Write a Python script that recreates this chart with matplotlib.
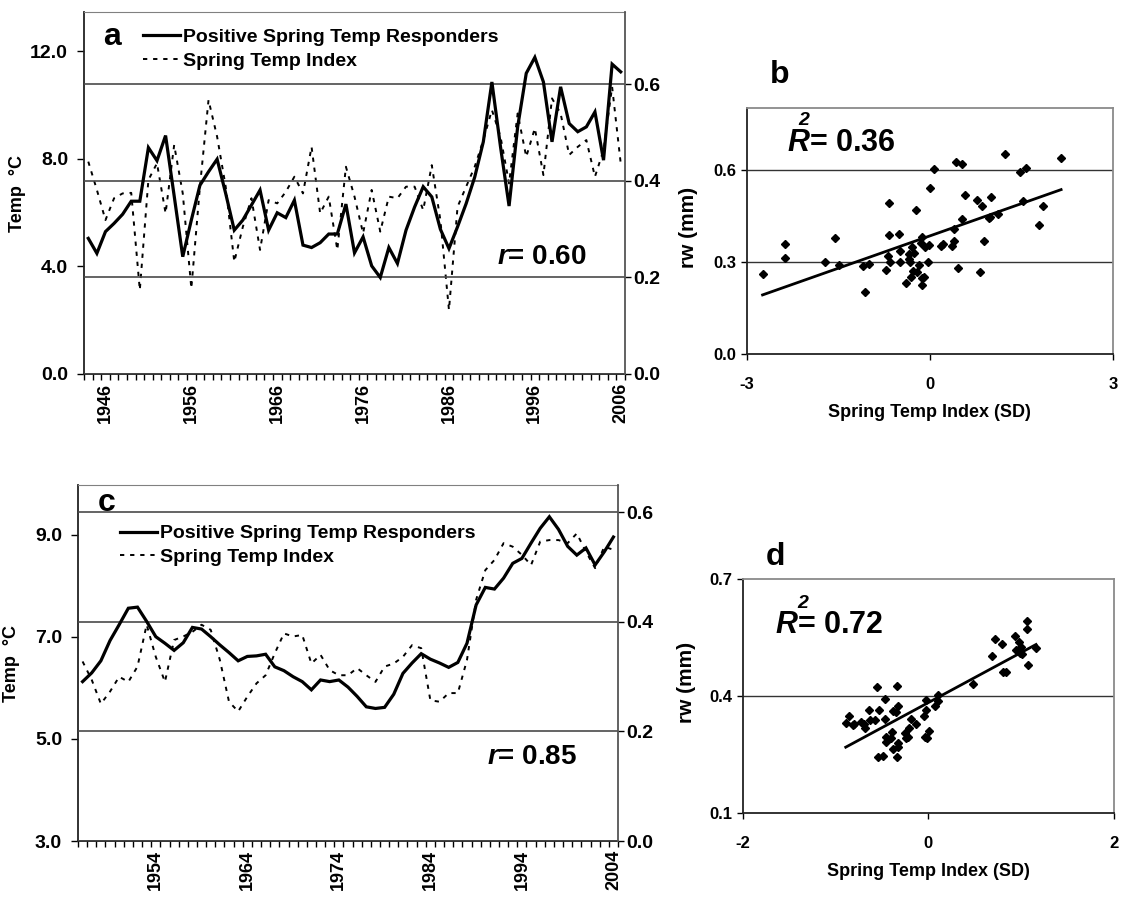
import numpy as np
import matplotlib
matplotlib.use("Agg")
import matplotlib.pyplot as plt
from matplotlib import font_manager
from matplotlib.ticker import FixedLocator, FixedFormatter

# ---- series data ----
years_a = np.arange(1944, 2007)
rw_a = [0.281, 0.250, 0.295, 0.312, 0.331, 0.358, 0.358, 0.469, 0.442, 0.494,
        0.369, 0.243, 0.319, 0.391, 0.419, 0.445, 0.374, 0.298, 0.319, 0.350,
        0.381, 0.298, 0.334, 0.324, 0.360, 0.267, 0.262, 0.272, 0.290, 0.290,
        0.352, 0.251, 0.284, 0.224, 0.200, 0.262, 0.229, 0.298, 0.346, 0.388,
        0.367, 0.300, 0.260, 0.305, 0.353, 0.408, 0.481, 0.605, 0.471, 0.348,
        0.512, 0.623, 0.656, 0.605, 0.481, 0.595, 0.519, 0.502, 0.512, 0.543,
        0.443, 0.642, 0.626]
temp_a = [7.89, 6.84, 5.72, 6.53, 6.71, 6.73, 3.12, 7.21, 7.83, 5.97,
          8.51, 6.71, 3.18, 6.96, 10.18, 8.82, 6.96, 4.17, 5.47, 6.53,
          4.61, 6.46, 6.34, 6.77, 7.33, 6.71, 8.44, 5.97, 6.59, 4.61,
          7.70, 6.59, 5.23, 6.84, 5.29, 6.59, 6.53, 6.96, 6.96, 6.09,
          7.76, 5.72, 2.38, 6.21, 6.96, 7.70, 8.69, 9.81, 8.82, 7.08,
          9.68, 8.07, 9.13, 7.39, 10.24, 9.68, 8.14, 8.44, 8.69, 7.33,
          8.32, 10.67, 7.83]
year_labels_a = [1946, 1956, 1966, 1976, 1986, 1996, 2006]

years_c = np.arange(1946, 2005)
rw_c = [0.291, 0.307, 0.329, 0.366, 0.395, 0.425, 0.427, 0.401, 0.373, 0.361,
        0.348, 0.362, 0.390, 0.387, 0.373, 0.358, 0.344, 0.329, 0.337, 0.338,
        0.341, 0.318, 0.311, 0.300, 0.291, 0.276, 0.294, 0.291, 0.294, 0.281,
        0.264, 0.245, 0.242, 0.244, 0.268, 0.306, 0.325, 0.342, 0.332, 0.325,
        0.317, 0.326, 0.361, 0.431, 0.463, 0.460, 0.480, 0.507, 0.516, 0.544,
        0.571, 0.592, 0.569, 0.538, 0.522, 0.535, 0.504, 0.528, 0.555]
temp_c = [6.52, 6.16, 5.69, 5.93, 6.22, 6.12, 6.42, 7.24, 6.61, 6.12,
          6.94, 7.01, 7.10, 7.24, 7.14, 6.55, 5.73, 5.54, 5.83, 6.09,
          6.25, 6.68, 7.07, 7.01, 7.04, 6.48, 6.65, 6.35, 6.25, 6.25,
          6.39, 6.25, 6.12, 6.42, 6.48, 6.61, 6.84, 6.78, 5.76, 5.73,
          5.90, 5.90, 6.55, 7.73, 8.31, 8.51, 8.84, 8.77, 8.61, 8.41,
          8.87, 8.90, 8.90, 8.84, 9.03, 8.67, 8.35, 8.77, 8.71]
year_labels_c = [1954, 1964, 1974, 1984, 1994, 2004]

# ---- scatter data: spring temp index (SD) vs ring width ----
idx_b = [-2.74, -2.38, -2.38, -1.71, -1.55, -1.48, -1.09, -1.06, -1.00, -0.72,
         -0.68, -0.67, -0.67, -0.65, -0.51, -0.49, -0.49, -0.39, -0.34, -0.34,
         -0.33, -0.31, -0.29, -0.27, -0.26, -0.23, -0.21, -0.18, -0.15, -0.13,
         -0.13, -0.13, -0.10, -0.08, -0.03, -0.02, 0.01, 0.07, 0.19, 0.21,
         0.37, 0.39, 0.40, 0.43, 0.46, 0.53, 0.53, 0.57, 0.77, 0.82,
         0.86, 0.88, 0.97, 0.98, 1.00, 1.11, 1.23, 1.48, 1.52, 1.57,
         1.78, 1.85, 2.15]
rw_b = [0.259, 0.358, 0.313, 0.300, 0.379, 0.290, 0.286, 0.203, 0.293, 0.273,
        0.320, 0.492, 0.386, 0.301, 0.392, 0.334, 0.300, 0.230, 0.327, 0.308,
        0.300, 0.250, 0.347, 0.270, 0.329, 0.469, 0.266, 0.290, 0.360, 0.380,
        0.224, 0.248, 0.251, 0.347, 0.298, 0.354, 0.539, 0.603, 0.352, 0.357,
        0.351, 0.407, 0.368, 0.625, 0.279, 0.440, 0.620, 0.518, 0.500, 0.266,
        0.483, 0.369, 0.442, 0.446, 0.511, 0.456, 0.652, 0.594, 0.498, 0.605,
        0.421, 0.481, 0.639]

idx_d = [-0.89, -0.85, -0.81, -0.80, -0.73, -0.69, -0.68, -0.64, -0.63, -0.57,
         -0.55, -0.54, -0.53, -0.49, -0.47, -0.47, -0.46, -0.46, -0.40, -0.39,
         -0.38, -0.38, -0.35, -0.34, -0.34, -0.33, -0.33, -0.33, -0.25, -0.24,
         -0.22, -0.21, -0.19, -0.13, -0.05, -0.04, -0.02, -0.02, -0.01, 0.01,
         0.07, 0.10, 0.10, 0.48, 0.69, 0.72, 0.79, 0.80, 0.84, 0.93,
         0.94, 0.98, 0.99, 1.00, 1.01, 1.06, 1.06, 1.07, 1.16]
rw_d = [0.330, 0.347, 0.324, 0.329, 0.334, 0.327, 0.317, 0.364, 0.337, 0.338,
        0.424, 0.243, 0.364, 0.245, 0.393, 0.341, 0.295, 0.281, 0.292, 0.308,
        0.362, 0.263, 0.358, 0.426, 0.243, 0.374, 0.279, 0.269, 0.305, 0.293,
        0.294, 0.317, 0.340, 0.328, 0.348, 0.295, 0.390, 0.364, 0.292, 0.310,
        0.373, 0.401, 0.386, 0.431, 0.502, 0.546, 0.533, 0.462, 0.462, 0.553,
        0.518, 0.539, 0.509, 0.526, 0.507, 0.592, 0.572, 0.479, 0.522]

# ---- fonts ----
installed = {f.name for f in font_manager.fontManager.ttflist}
NARROW = "Liberation Sans Narrow" if "Liberation Sans Narrow" in installed else "Liberation Sans"
SANS = "Liberation Sans"
plt.rcParams["font.family"] = [SANS, "DejaVu Sans"]
plt.rcParams["mathtext.fontset"] = "custom"
plt.rcParams["mathtext.it"] = "Liberation Sans:italic:bold"
plt.rcParams["mathtext.rm"] = "Liberation Sans:bold"

W, H = 1125, 909
fig = plt.figure(figsize=(W / 100, H / 100), dpi=100)


def px_rect(left, top, right, bottom):
    return [left / W, 1 - bottom / H, (right - left) / W, (bottom - top) / H]


def series_panel(rect, years, rw, temp, tlim, tticks, rwlim, rwticks,
                 labels, leg_xy, r_xy, r_text):
    ax = fig.add_axes(rect)
    ax2 = ax.twinx()

    l_dot, = ax.plot(years, temp, color="k", lw=1.4, ls=(0, (2.2, 3.0)))
    l_sol, = ax2.plot(years, rw, color="k", lw=2.3, solid_joinstyle="miter")

    ax.set_xlim(years[0] - 0.5, years[-1] + 0.5)
    ax.set_ylim(*tlim)
    ax2.set_ylim(*rwlim)

    # category ticks between years, labels on selected years
    ax.xaxis.set_minor_locator(FixedLocator(np.arange(years[0] - 0.5, years[-1] + 1.0)))
    ax.xaxis.set_major_locator(FixedLocator(labels))
    ax.xaxis.set_major_formatter(FixedFormatter([str(y) for y in labels]))
    ax.tick_params(axis="x", which="major", length=0, pad=6.5)
    ax.tick_params(axis="x", which="minor", length=4.5, width=1.0, direction="out")
    for t in ax.get_xticklabels():
        t.set_rotation(90)
        t.set_fontsize(13)
        t.set_fontweight("bold")
        t.set_family(SANS)

    ax.set_yticks(tticks)
    ax.set_yticklabels([f"{v:.1f}" for v in tticks], fontsize=14,
                       fontweight="bold", family=NARROW)
    ax.tick_params(axis="y", length=5, width=1.0, pad=6.5)

    ax2.set_yticks(rwticks)
    ax2.set_yticklabels([f"{v:.1f}" for v in rwticks], fontsize=14,
                        fontweight="bold", family=NARROW)
    ax2.tick_params(axis="y", length=4, width=1.0, pad=2)
    ax2.grid(axis="y", color="#4a4a4a", lw=1.2)

    for s in ("left", "bottom"):
        ax.spines[s].set_color("#222222")
        ax.spines[s].set_linewidth(1.3)
    ax.spines["top"].set_color("#808080")
    ax.spines["right"].set_visible(False)
    for s in ("left", "bottom", "top"):
        ax2.spines[s].set_visible(False)
    ax2.spines["right"].set_color("#555555")
    ax2.spines["right"].set_linewidth(1.3)

    ax.text(-0.123, 0.5, "Temp  \u00b0C", transform=ax.transAxes, rotation=90,
            ha="center", va="center", fontsize=13, fontweight="bold")

    ax2.legend([l_sol, l_dot], ["Positive Spring Temp Responders", "Spring Temp Index"],
               loc="upper left", bbox_to_anchor=leg_xy, frameon=False,
               prop={"family": NARROW, "size": 14, "weight": "bold"},
               handlelength=1.9, handletextpad=0.15, labelspacing=0.3,
               borderpad=0, borderaxespad=0)

    ax2.text(r_xy[0], r_xy[1], r_text, transform=ax.transAxes, ha="left",
             va="center", fontsize=20, fontweight="bold")
    return ax, ax2


def scatter_panel(rect, x, y, xlim, xticks, ylim, yticks, gridvals, ylab_xy,
                  r2_xy, sup_xy, r2_text):
    ax = fig.add_axes(rect)
    ax.plot(x, y, "D", ms=3.6, color="k", mec="k")
    coef = np.polyfit(x, y, 1)
    xs = np.array([min(x), max(x)])
    ax.plot(xs, np.polyval(coef, xs), color="k", lw=2.0)
    for g in gridvals:
        ax.axhline(g, color="#333333", lw=1.0, zorder=0)

    ax.set_xlim(*xlim)
    ax.set_ylim(*ylim)
    ax.set_xticks(xticks)
    ax.set_xticklabels([str(v) for v in xticks], fontsize=12, fontweight="bold")
    ax.set_yticks(yticks)
    ax.set_yticklabels([f"{v:.1f}" for v in yticks], fontsize=12, fontweight="bold")
    ax.tick_params(axis="x", length=4.5, width=1.0, pad=12)
    ax.tick_params(axis="y", length=4.5, width=1.0, pad=3)

    for s in ("left", "bottom"):
        ax.spines[s].set_color("#222222")
        ax.spines[s].set_linewidth(1.3)
    for s in ("top", "right"):
        ax.spines[s].set_color("#8a8a8a")
        ax.spines[s].set_linewidth(1.3)

    ax.text(ylab_xy[0], ylab_xy[1], "rw (mm)", transform=ax.transAxes,
            rotation=90, ha="center", va="center", fontsize=15, fontweight="bold")
    ax.set_xlabel("Spring Temp Index (SD)", fontsize=13, fontweight="bold",
                  family=NARROW, labelpad=9)

    ax.text(r2_xy[0], r2_xy[1], r2_text, transform=ax.transAxes, ha="left",
            va="baseline", fontsize=22, fontweight="bold")
    ax.text(sup_xy[0], sup_xy[1], "2", transform=ax.transAxes, ha="center",
            va="center", fontsize=14, fontweight="bold", style="italic")
    return ax


# panel a
series_panel(px_rect(84, 12, 625, 374), years_a, rw_a, temp_a,
             (0, 13.45), [0, 4, 8, 12], (0, 0.75), [0, 0.2, 0.4, 0.6],
             year_labels_a, (0.109, 0.954), (0.763, 0.323), r"$r$= 0.60")

# panel c
series_panel(px_rect(78, 485, 618, 841), years_c, rw_c, temp_c,
             (3, 9.98), [3, 5, 7, 9], (0, 0.65), [0, 0.2, 0.4, 0.6],
             year_labels_c, (0.078, 0.888), (0.757, 0.237), r"$r$= 0.85")

# panel b
scatter_panel(px_rect(746.7, 108.3, 1113, 354), idx_b, rw_b,
              (-3, 3), [-3, 0, 3], (0, 0.8), [0.0, 0.3, 0.6], [0.3, 0.6],
              (-0.16, 0.517), (0.109, 0.827), (0.1545, 0.95), r"$R$= 0.36")

# panel d
scatter_panel(px_rect(742.7, 579, 1114, 812.7), idx_d, rw_d,
              (-2, 2), [-2, 0, 2], (0.1, 0.7), [0.1, 0.4, 0.7], [0.4],
              (-0.152, 0.557), (0.087, 0.770), (0.162, 0.895), r"$R$= 0.72")

# panel letters
for letter, (lx, ly) in {"a": (112, 37), "b": (780, 75),
                         "c": (107, 503), "d": (775, 557)}.items():
    fig.text(lx / W, 1 - ly / H, letter, ha="center", va="center",
             fontsize=23, fontweight="bold")

fig.savefig("out.png", dpi=100)
